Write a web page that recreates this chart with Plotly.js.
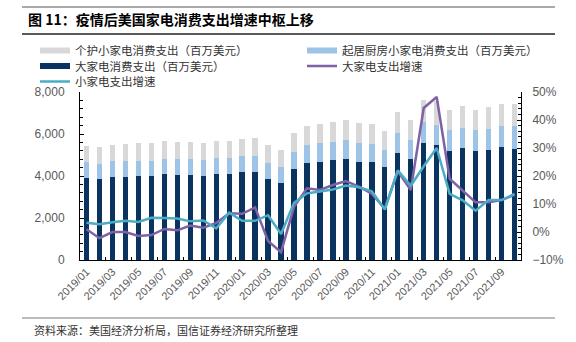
<!DOCTYPE html>
<html>
<head>
<meta charset="utf-8">
<script src="https://cdn.plot.ly/plotly-3.0.1.min.js"></script>
<style>
html,body{margin:0;padding:0;background:#fff;}
#chart{width:576px;height:342px;}
</style>
</head>
<body>
<div id="chart"></div>
<script>
const months = ['2019/01','2019/02','2019/03','2019/04','2019/05','2019/06','2019/07','2019/08','2019/09','2019/10','2019/11','2019/12',
  '2020/01','2020/02','2020/03','2020/04','2020/05','2020/06','2020/07','2020/08','2020/09','2020/10','2020/11','2020/12',
  '2021/01','2021/02','2021/03','2021/04','2021/05','2021/06','2021/07','2021/08','2021/09','2021/10'];
const majorSpend = [3920,3860,3950,3950,3985,3985,4080,4050,4065,4000,4080,4100,4190,4190,3860,3680,4335,4640,4685,4750,4830,4685,4655,4450,5115,4830,5565,5485,5180,5340,5210,5260,5385,5290];
const kitchenSmallSpend = [750,715,750,785,750,750,750,780,765,765,765,745,785,785,780,765,825,860,880,890,905,910,890,810,955,905,985,955,990,955,960,990,1005,1070];
const careSmallSpend = [780,810,785,780,830,830,845,810,810,815,830,830,810,840,845,800,910,905,920,940,910,940,910,875,990,945,1050,1130,985,1050,985,1050,1055,1050];
const majorGrowth = [1.0,-2.2,0.0,0.0,-1.4,-1.1,1.1,0.6,2.3,1.5,3.2,6.7,6.5,8.8,-3.2,-7.2,9.0,15.6,15.0,16.8,18.2,16.2,13.7,8.3,21.7,15.0,44.3,48.2,19.0,14.7,10.6,10.6,11.4,13.3];
const smallGrowth = [3.3,2.8,3.5,4.0,3.6,5.1,5.0,4.8,3.8,4.1,1.3,6.9,4.0,4.0,6.0,-0.7,10.4,13.8,14.5,15.2,16.6,16.0,14.5,8.0,22.0,16.5,23.5,30.0,13.6,11.3,7.6,11.4,11.4,13.6];

const names = {
  care: '个护小家电消费支出（百万美元）',
  kitchen: '起居厨房小家电消费支出（百万美元）',
  major: '大家电消费支出（百万美元）',
  majorG: '大家电支出增速',
  smallG: '小家电支出增速'
};
const C = {major:'#0B335F', kitchen:'#9DC3E6', care:'#D8D8D8', majorG:'#7F62A6', smallG:'#4BACC6'};

const traces = [
  {type:'bar', x:months, y:majorSpend, name:names.major, marker:{color:C.major}, showlegend:false},
  {type:'bar', x:months, y:kitchenSmallSpend, name:names.kitchen, marker:{color:C.kitchen}, showlegend:false},
  {type:'bar', x:months, y:careSmallSpend, name:names.care, marker:{color:C.care}, showlegend:false},
  {type:'scatter', mode:'lines', x:months, y:majorGrowth, yaxis:'y2', name:names.majorG, line:{color:C.majorG, width:2.5}, legend:'legend4'},
  {type:'scatter', mode:'lines', x:months, y:smallGrowth, yaxis:'y2', name:names.smallG, line:{color:C.smallG, width:2.5}, legend:'legend5'},
  // legend swatches for the bar series
  {type:'scatter', mode:'lines', x:[null], y:[null], name:names.care, line:{color:C.care, width:6}, legend:'legend'},
  {type:'scatter', mode:'lines', x:[null], y:[null], name:names.kitchen, line:{color:C.kitchen, width:6}, legend:'legend2'},
  {type:'scatter', mode:'lines', x:[null], y:[null], name:names.major, line:{color:C.major, width:6}, legend:'legend3'}
];

const W = 441, H = 168, L = 80, B = 260;
const px = v => (v - L) / W;
const py = v => (B - v) / H;
const legFont = {family:'Noto Sans CJK SC', size:11.5, color:'#333'};
function leg(x, y){ return {x:px(x), y:py(y), xanchor:'left', yanchor:'middle', bgcolor:'rgba(0,0,0,0)', font:legFont, borderwidth:0}; }

const tickFont = {family:'Liberation Sans, Arial, sans-serif', size:12, color:'#595959'};

const layout = {
  width:576, height:342,
  margin:{l:80, r:55, t:92, b:82},
  paper_bgcolor:'#fff', plot_bgcolor:'#fff',
  barmode:'stack', bargap:0.59,
  showlegend:true,
  title:{text:'<b>图 11：疫情后美国家电消费支出增速中枢上移</b>', x:28/576, xanchor:'left', xref:'container', y:1-20/342, yanchor:'middle', yref:'container',
    font:{family:'Noto Sans CJK SC', size:14, color:'#000'}},
  legend: leg(35, 50.5),
  legend2: leg(302, 50.5),
  legend3: leg(35, 66),
  legend4: leg(302, 66),
  legend5: leg(35, 81.5),
  xaxis:{type:'category', dtick:2, tickangle:-45, tickfont:{family:'Liberation Sans, Arial, sans-serif', size:11, color:'#595959'},
    ticks:'inside', ticklen:3, tickcolor:'#000', tickson:'boundaries', showline:true, linecolor:'#000', linewidth:1, showgrid:false, zeroline:false},
  yaxis:{range:[0,8000], dtick:2000, tickformat:',d', ticks:'inside', ticklen:4, tickcolor:'#000', showline:true, linecolor:'#000', linewidth:1,
    showgrid:false, zeroline:false, tickfont:tickFont, ticklabelstandoff:12,
    minor:{dtick:400, ticks:'inside', ticklen:3, tickcolor:'#000'}},
  yaxis2:{overlaying:'y', side:'right', range:[-10,50], dtick:10, ticksuffix:'%', ticks:'inside', ticklen:4, tickcolor:'#000', showline:true,
    linecolor:'#000', linewidth:1, showgrid:false, zeroline:false, tickfont:tickFont, ticklabelstandoff:8,
    minor:{dtick:2, ticks:'inside', ticklen:3, tickcolor:'#000'}},
  shapes:[
    {type:'line', xref:'paper', yref:'paper', x0:px(22), x1:px(555), y0:py(7), y1:py(7), line:{color:'#555', width:1}},
    {type:'line', xref:'paper', yref:'paper', x0:px(22), x1:px(555), y0:py(34), y1:py(34), line:{color:'#222', width:1.5}},
    {type:'line', xref:'paper', yref:'paper', x0:px(22), x1:px(555), y0:py(318), y1:py(318), line:{color:'#777', width:1}}
  ],
  annotations:[
    {text:'资料来源：美国经济分析局，国信证券经济研究所整理', xref:'paper', yref:'paper', x:px(32), y:py(330), xanchor:'left', yanchor:'middle',
      showarrow:false, font:{family:'Noto Sans CJK SC', size:11, color:'#333'}}
  ]
};

Plotly.newPlot('chart', traces, layout, {displayModeBar:false, staticPlot:true});
</script>
</body>
</html>
